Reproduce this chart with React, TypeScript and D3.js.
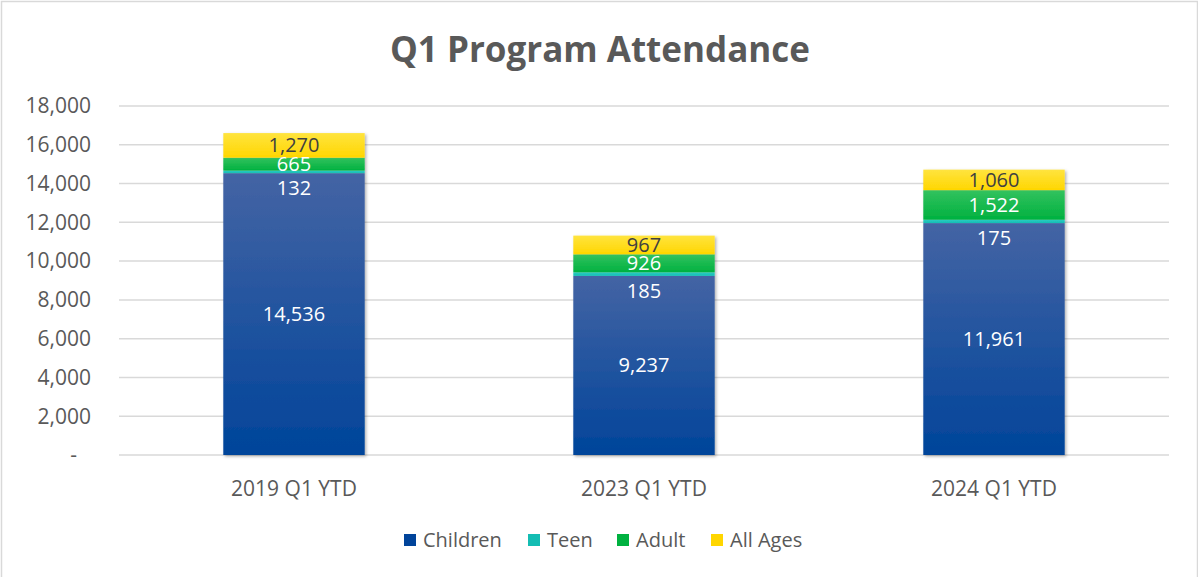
import React, { useRef, useEffect } from "react";
import * as d3 from "d3";

// chart data
const categories = ["2019 Q1 YTD", "2023 Q1 YTD", "2024 Q1 YTD"];
const seriesNames = ["Children", "Teen", "Adult", "All Ages"];
const children = [14536, 9237, 11961];
const teen = [132, 185, 175];
const adult = [665, 926, 1522];
const allAges = [1270, 967, 1060];
const yTicks = [0, 2000, 4000, 6000, 8000, 10000, 12000, 14000, 16000, 18000];

const seriesColors = [
  ["#4464a4", "#00449a"], // children: top -> bottom
  ["#2ccbc2", "#14bdb3"],
  ["#33c25e", "#00b140"],
  ["#ffe43f", "#ffd600"],
];
const labelColors = ["#ffffff", "#ffffff", "#ffffff", "#404040"];

const WIDTH = 1198;
const HEIGHT = 577;
const FONT = "'Open Sans', 'Noto Sans', sans-serif";

function App() {
  const svgRef = useRef<SVGSVGElement>(null);

  useEffect(() => {
    const svg = d3.select(svgRef.current);
    svg.selectAll("*").remove();

    const margin = { left: 119, right: 29, top: 106, bottom: 122 };

    const x = d3
      .scaleBand()
      .domain(categories)
      .range([margin.left, WIDTH - margin.right])
      .padding(0);

    const y = d3
      .scaleLinear()
      .domain([0, 18000])
      .range([HEIGHT - margin.bottom, margin.top]);

    const rows = categories.map((c, i) => ({
      category: c,
      Children: children[i],
      Teen: teen[i],
      Adult: adult[i],
      "All Ages": allAges[i],
    }));

    const stacked = d3.stack<any>().keys(seriesNames)(rows);

    const defs = svg.append("defs");
    seriesColors.forEach((cols, i) => {
      const g = defs
        .append("linearGradient")
        .attr("id", "grad" + i)
        .attr("x1", 0)
        .attr("y1", 0)
        .attr("x2", 0)
        .attr("y2", 1);
      g.append("stop").attr("offset", "0%").attr("stop-color", cols[0]);
      g.append("stop").attr("offset", "100%").attr("stop-color", cols[1]);
    });
    // soft shadow like excel bars
    const f = defs
      .append("filter")
      .attr("id", "shadow")
      .attr("x", "-10%")
      .attr("y", "-10%")
      .attr("width", "130%")
      .attr("height", "130%");
    f.append("feDropShadow")
      .attr("dx", 1.5)
      .attr("dy", 1.5)
      .attr("stdDeviation", 1.5)
      .attr("flood-color", "#000")
      .attr("flood-opacity", 0.3);

    // white background + outer border
    svg
      .append("rect")
      .attr("x", 1.5)
      .attr("y", 1.5)
      .attr("width", WIDTH - 2)
      .attr("height", HEIGHT + 4)
      .attr("fill", "#ffffff")
      .attr("stroke", "#d9d9d9")
      .attr("stroke-width", 1.5);

    // title
    svg
      .append("text")
      .attr("x", 600)
      .attr("y", 62)
      .attr("text-anchor", "middle")
      .style("font-family", FONT)
      .style("font-weight", "bold")
      .style("font-size", "35px")
      .attr("fill", "#595959")
      .text("Q1 Program Attendance");

    // gridlines
    svg
      .append("g")
      .selectAll("line")
      .data(yTicks)
      .join("line")
      .attr("x1", margin.left)
      .attr("x2", WIDTH - margin.right)
      .attr("y1", (d) => y(d))
      .attr("y2", (d) => y(d))
      .attr("stroke", "#d9d9d9")
      .attr("stroke-width", 1.5);

    // y tick labels
    svg
      .append("g")
      .selectAll("text")
      .data(yTicks)
      .join("text")
      .attr("x", 91)
      .attr("y", (d) => y(d))
      .attr("dy", "0.35em")
      .attr("text-anchor", "end")
      .style("font-family", FONT)
      .style("font-size", "21px")
      .attr("fill", "#595959")
      .text((d) => (d === 0 ? "-" : d3.format(",")(d)))
      .attr("dx", (d) => (d === 0 ? -14 : 0));

    // category labels
    svg
      .append("g")
      .selectAll("text")
      .data(categories)
      .join("text")
      .attr("x", (d) => x(d)! + x.bandwidth() / 2)
      .attr("y", 496)
      .attr("text-anchor", "middle")
      .style("font-family", FONT)
      .style("font-size", "21px")
      .attr("fill", "#595959")
      .text((d) => d);

    const barW = x.bandwidth() * 0.404;

    // bars, with a shadow behind the whole stack
    const barGroup = svg.append("g").attr("filter", "url(#shadow)");
    stacked.forEach((layer, si) => {
      barGroup
        .append("g")
        .selectAll("rect")
        .data(layer)
        .join("rect")
        .attr("x", (d) => x(d.data.category)! + x.bandwidth() / 2 - barW / 2)
        .attr("y", (d) => y(d[1]))
        .attr("width", barW)
        .attr("height", (d) => y(d[0]) - y(d[1]))
        .attr("fill", "url(#grad" + si + ")");
    });

    // data labels
    stacked.forEach((layer, si) => {
      svg
        .append("g")
        .selectAll("text")
        .data(layer)
        .join("text")
        .attr("x", (d) => x(d.data.category)! + x.bandwidth() / 2)
        // teen segment is too thin, its label sits just below it
        .attr("y", (d) =>
          si === 1 ? y(d[0]) + 15 : (y(d[0]) + y(d[1])) / 2
        )
        .attr("dy", "0.35em")
        .attr("text-anchor", "middle")
        .style("font-family", FONT)
        .style("font-size", "20px")
        .attr("fill", labelColors[si])
        .text((d) => d3.format(",")(d[1] - d[0]));
    });

    // legend
    const legendX = [404, 528, 617, 711];
    const legend = svg
      .append("g")
      .selectAll("g")
      .data(seriesNames)
      .join("g")
      .attr("transform", (d, i) => `translate(${legendX[i]},540)`);
    legend
      .append("rect")
      .attr("x", 0)
      .attr("y", -6)
      .attr("width", 12)
      .attr("height", 12)
      .attr("fill", (d, i) => seriesColors[i][1]);
    legend
      .append("text")
      .attr("x", 19)
      .attr("y", 0)
      .attr("dy", "0.35em")
      .style("font-family", FONT)
      .style("font-size", "20px")
      .attr("fill", "#595959")
      .text((d) => d);
  }, []);

  return (
    <div style={{ position: "absolute", left: 0, top: 0 }}>
      <svg ref={svgRef} width={WIDTH} height={HEIGHT} style={{ display: "block" }}></svg>
    </div>
  );
}

export default App;
